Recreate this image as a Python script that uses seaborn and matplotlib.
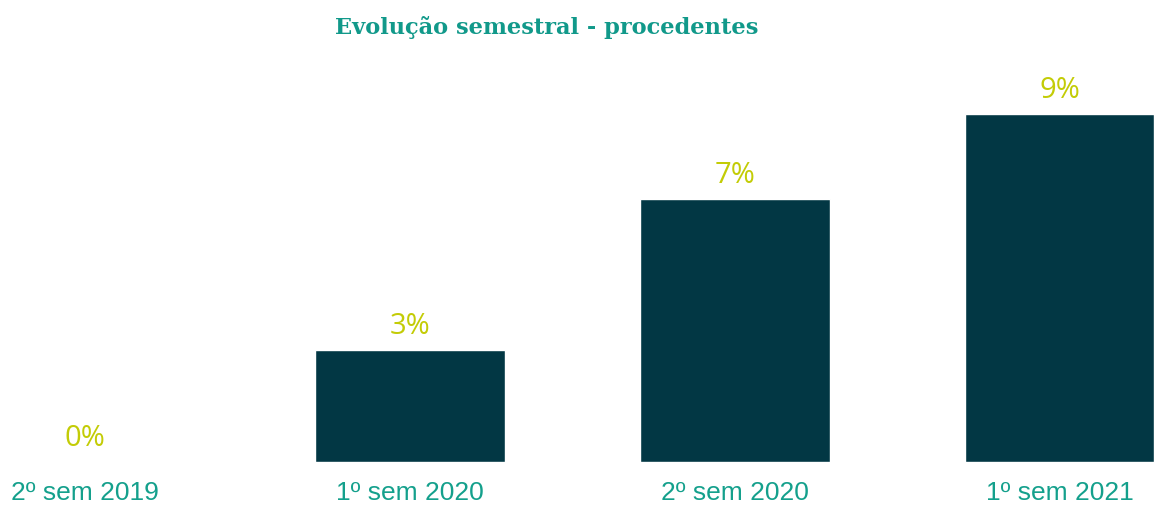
import matplotlib
matplotlib.use("Agg")
import matplotlib.pyplot as plt
import seaborn as sns
import pandas as pd

semesters = ["2º sem 2019", "1º sem 2020", "2º sem 2020", "1º sem 2021"]
share_pct = [0.0, 2.9, 6.8, 9.0]

BAR = "#023744"
LABEL = "#C3CC06"
TICK = "#14A08C"
TITLE = "#11998A"

sns.set_theme(style="white")
plt.rcParams["font.family"] = ["Liberation Sans", "DejaVu Sans"]

df = pd.DataFrame({"semestre": semesters, "pct": share_pct})

fig = plt.figure(figsize=(11.54, 5.06), dpi=100)
ax = fig.add_axes([0.0, 43 / 506, 1.0, 463 / 506])

sns.barplot(data=df, x="semestre", y="pct", color=BAR, width=0.583,
            saturation=1, ax=ax)

ax.set_xlim(-0.262, 3.29)
ax.set_ylim(0, max(share_pct) * 463 / 348)

for i, v in enumerate(share_pct):
    ax.annotate(f"{v:.0f}%", xy=(i, v), xytext=(0, 12.5), textcoords="offset points",
                ha="center", va="baseline", color=LABEL, fontsize=21,
                fontfamily=["Open Sans", "DejaVu Sans"])

ax.set_xlabel("")
ax.set_ylabel("")
ax.set_yticks([])
ax.tick_params(axis="x", length=0, pad=13, labelsize=19, labelcolor=TICK)
for s in ax.spines.values():
    s.set_visible(False)

fig.text(0.4736, 1 - 27.5 / 506, "Evolução semestral - procedentes",
         ha="center", va="center", color=TITLE, fontsize=16.2, fontweight="bold",
         fontfamily=["DejaVu Serif", "Liberation Serif"])

fig.savefig("out.png", dpi=100)
